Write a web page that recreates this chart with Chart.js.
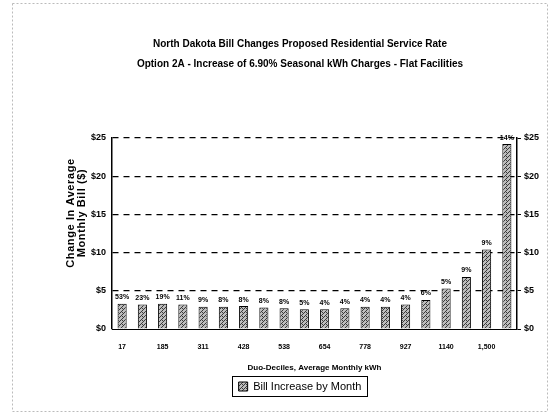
<!DOCTYPE html>
<html>
<head>
<meta charset="utf-8">
<script src="https://cdn.jsdelivr.net/npm/chart.js@4/dist/chart.umd.min.js"></script>
<style>
  body { margin: 0; background: #fff; }
  #chart { display: block; }
</style>
</head>
<body>
<canvas id="chart" width="550" height="419"></canvas>
<script>
// data
const categories = ['17', '', '185', '', '311', '', '428', '', '538', '', '654', '', '778', '', '927', '', '1140', '', '1,500', ''];
const billIncrease = [3.3, 3.2, 3.3, 3.2, 2.9, 2.9, 3.0, 2.8, 2.7, 2.6, 2.6, 2.7, 2.9, 2.9, 3.2, 3.8, 5.3, 6.8, 10.4, 24.2];
const pctLabels = ['53%', '23%', '19%', '11%', '9%', '8%', '8%', '8%', '8%', '5%', '4%', '4%', '4%', '4%', '4%', '6%', '5%', '9%', '9%', '14%'];
const yTicks = [0, 5, 10, 15, 20, 25];
const yTitle = ['Change In Average', 'Monthly Bill ($)'];

// hatched grey fill like the print
function makePattern() {
  const c = document.createElement('canvas');
  c.width = 4; c.height = 4;
  const g = c.getContext('2d');
  g.fillStyle = '#bdbdbd';
  g.fillRect(0, 0, 4, 4);
  g.fillStyle = '#3a3a3a';
  g.fillRect(0, 0, 1, 1);
  g.fillRect(2, 2, 1, 1);
  g.fillRect(1, 3, 1, 1);
  g.fillRect(3, 1, 1, 1);
  g.fillRect(2, 0, 1, 1);
  return g.createPattern(c, 'repeat');
}
const hatch = makePattern();

const FONT = '"Liberation Sans", Arial, sans-serif';

const pctPlugin = {
  id: 'pct',
  afterDatasetsDraw(chart) {
    const ctx = chart.ctx;
    const meta = chart.getDatasetMeta(0);
    ctx.save();
    ctx.font = 'bold 7px ' + FONT;
    ctx.fillStyle = '#000';
    ctx.textAlign = 'center';
    ctx.textBaseline = 'bottom';
    meta.data.forEach((bar, i) => {
      ctx.fillText(pctLabels[i], bar.x, bar.y - 3);
    });
    ctx.restore();
  }
};

const framePlugin = {
  id: 'frame',
  beforeDraw(chart) {
    const ctx = chart.ctx;
    ctx.save();
    ctx.strokeStyle = '#bbb';
    ctx.setLineDash([2, 2]);
    ctx.lineWidth = 1;
    ctx.strokeRect(12.5, 3.5, 535, 408);
    ctx.restore();
  },
  afterDraw(chart) {
    const ctx = chart.ctx;
    // y axis title, sits a bit above the middle in the print
    ctx.save();
    ctx.fillStyle = '#000';
    ctx.font = 'bold 11px ' + FONT;
    if ('letterSpacing' in ctx) ctx.letterSpacing = '0.6px';
    ctx.textAlign = 'center';
    ctx.textBaseline = 'middle';
    ctx.translate(76, 213);
    ctx.rotate(-Math.PI / 2);
    ctx.fillText(yTitle[0], 0, -5.5);
    ctx.fillText(yTitle[1], 0, 5.5);
    ctx.restore();

    // box round the legend
    const lg = chart.legend;
    if (!lg || !lg.legendHitBoxes.length) return;
    const hb = lg.legendHitBoxes[0];
    ctx.save();
    ctx.strokeStyle = '#000';
    ctx.lineWidth = 1;
    ctx.strokeRect(Math.round(hb.left) - 6.5, Math.round(hb.top) - 4.5, Math.round(hb.width) + 12, Math.round(hb.height) + 9);
    ctx.restore();
  }
};

new Chart(document.getElementById('chart'), {
  type: 'bar',
  data: {
    labels: categories,
    datasets: [{
      label: 'Bill Increase by Month',
      data: billIncrease,
      backgroundColor: hatch,
      borderColor: '#000',
      borderWidth: 1,
      barPercentage: 0.45,
      categoryPercentage: 1
    }]
  },
  options: {
    responsive: false,
    animation: false,
    layout: { padding: { left: 58, right: 8, bottom: 17 } },
    plugins: {
      title: {
        display: true,
        text: ['North Dakota Bill Changes Proposed Residential Service Rate',
               'Option 2A - Increase of 6.90% Seasonal kWh Charges - Flat Facilities'],
        color: '#000',
        font: { family: FONT, size: 10, weight: 'bold', lineHeight: 2 },
        padding: { top: 34, bottom: 64 }
      },
      legend: {
        position: 'bottom',
        labels: {
          color: '#000',
          boxWidth: 9,
          boxHeight: 9,
          padding: 4,
          font: { family: FONT, size: 11 }
        }
      },
      tooltip: { enabled: false }
    },
    scales: {
      x: {
        grid: { display: false },
        border: { color: '#000', width: 1 },
        ticks: {
          autoSkip: false,
          maxRotation: 0,
          color: '#000',
          padding: 6,
          font: { family: FONT, size: 7, weight: 'bold' }
        },
        title: {
          display: true,
          text: 'Duo-Deciles, Average Monthly kWh',
          color: '#000',
          padding: { top: 6, bottom: 4 },
          font: { family: FONT, size: 8, weight: 'bold' }
        }
      },
      y: {
        position: 'left',
        min: 0,
        max: 25,
        afterBuildTicks(axis) { axis.ticks = yTicks.map(v => ({ value: v })); },
        afterFit(axis) { axis.width = 54; },
        grid: {
          color: ctx => ctx.tick && ctx.tick.value === 0 ? 'rgba(0,0,0,0)' : '#000',
          lineWidth: 1.2,
          drawTicks: false
        },
        border: { color: '#000', width: 1.5, dash: [6, 5] },
        ticks: {
          color: '#000',
          padding: 6,
          callback: v => '$' + v,
          font: { family: FONT, size: 9, weight: 'bold' }
        }
      },
      y2: {
        position: 'right',
        min: 0,
        max: 25,
        afterBuildTicks(axis) { axis.ticks = yTicks.map(v => ({ value: v })); },
        grid: { drawOnChartArea: false, color: '#000', tickLength: 4 },
        border: { color: '#000', width: 1.5 },
        ticks: {
          color: '#000',
          padding: 3,
          callback: v => '$' + v,
          font: { family: FONT, size: 9, weight: 'bold' }
        }
      }
    }
  },
  plugins: [pctPlugin, framePlugin]
});
</script>
</body>
</html>
